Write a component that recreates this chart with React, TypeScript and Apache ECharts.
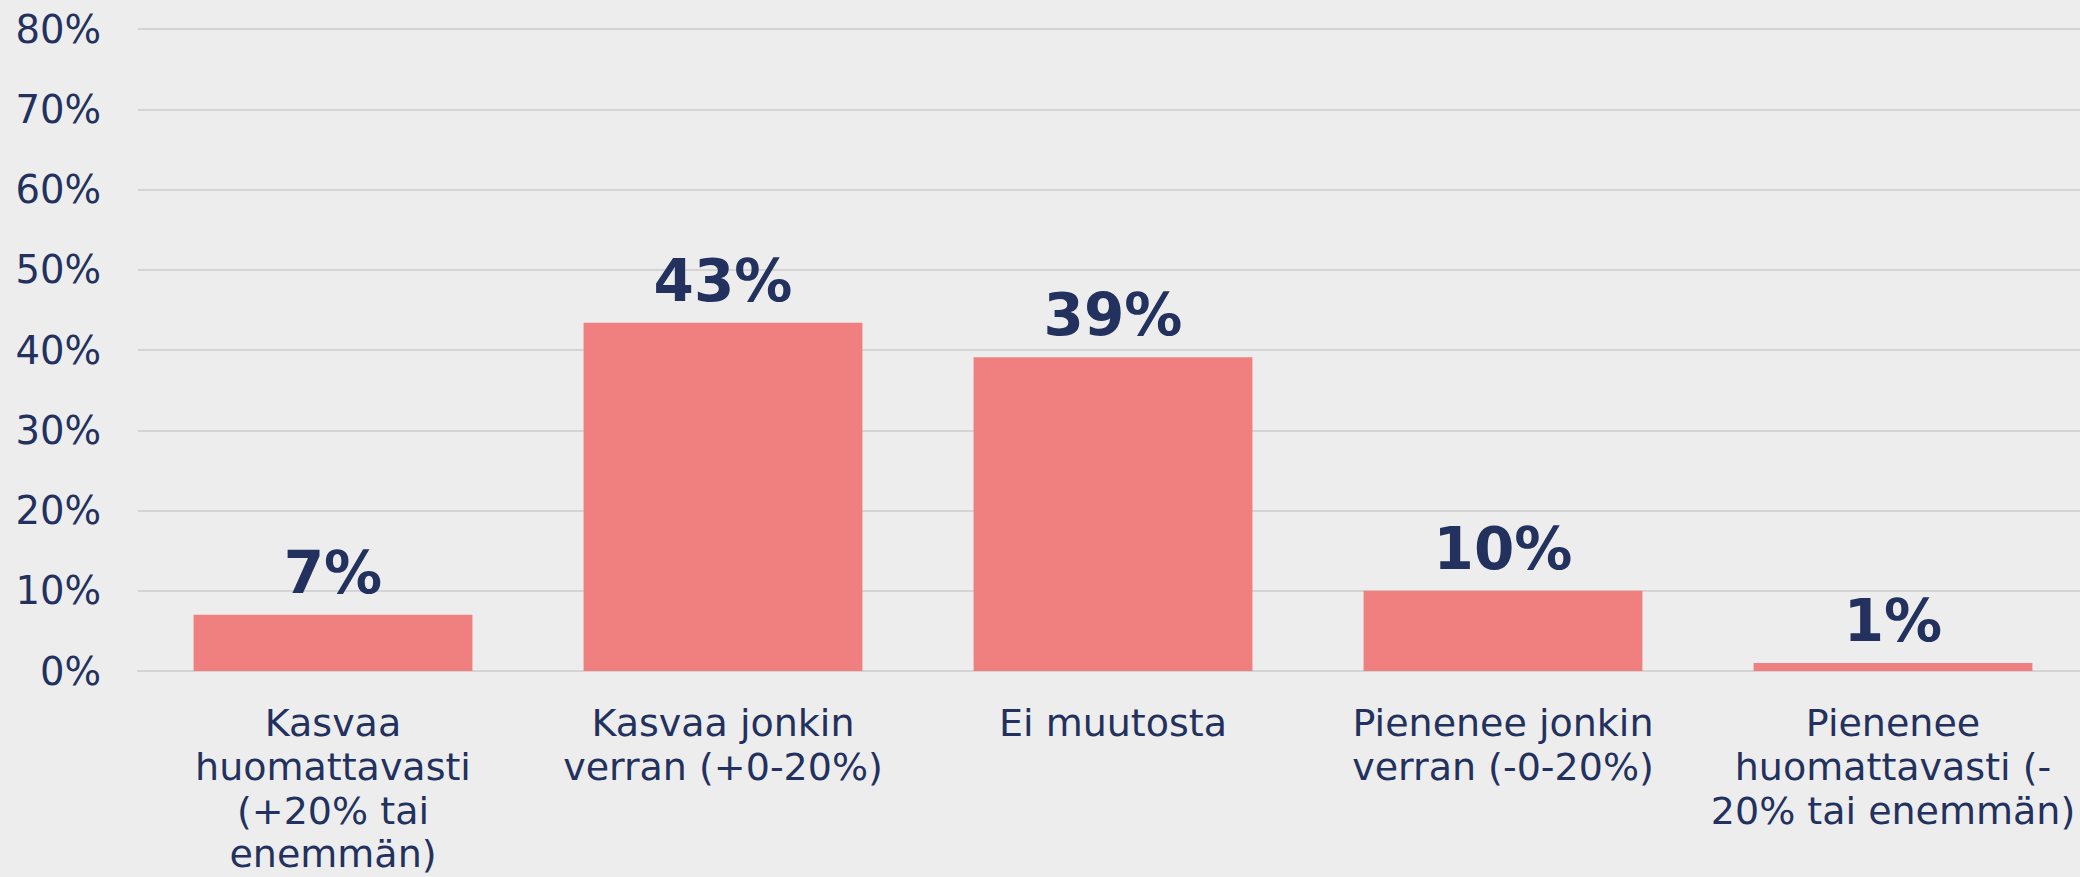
import React, { useEffect, useRef } from "react";
import * as echarts from "echarts";

const categories = [
  "Kasvaa\nhuomattavasti\n(+20% tai\nenemmän)",
  "Kasvaa jonkin\nverran (+0-20%)",
  "Ei muutosta",
  "Pienenee jonkin\nverran (-0-20%)",
  "Pienenee\nhuomattavasti (-\n20% tai enemmän)",
];
const values = [7.0, 43.4, 39.1, 10.0, 1.0];
const yTicks = [0, 10, 20, 30, 40, 50, 60, 70, 80];

const TEXT = "#22315E";
const FONT = "'DejaVu Sans', Verdana, sans-serif";

export default function App() {
  const ref = useRef<HTMLDivElement>(null);
  useEffect(() => {
    if (!ref.current) return;
    const chart = echarts.init(ref.current, undefined, { renderer: "svg" });
    chart.setOption({
      animation: false,
      backgroundColor: "#EDEDED",
      textStyle: { fontFamily: FONT },
      grid: {
        left: 138,
        top: 29,
        width: 1950,
        height: 642,
        containLabel: false,
        outerBoundsMode: "none",
      },
      xAxis: {
        type: "category",
        data: categories,
        axisTick: { show: false },
        axisLine: { show: true, lineStyle: { color: "#D4D4D4", width: 2 } },
        axisLabel: {
          color: TEXT,
          fontFamily: FONT,
          fontSize: 38,
          lineHeight: 43.8,
          margin: 30,
          interval: 0,
          align: "center",
          verticalAlign: "top",
        },
      },
      yAxis: {
        type: "value",
        min: yTicks[0],
        max: yTicks[yTicks.length - 1],
        interval: 10,
        axisLine: { show: false },
        axisTick: { show: false },
        splitLine: { lineStyle: { color: "#D4D4D4", width: 2 } },
        axisLabel: {
          color: TEXT,
          fontFamily: FONT,
          fontSize: 38.5,
          margin: 37,
          formatter: (v: number) => `${v}%`,
        },
      },
      series: [
        {
          type: "bar",
          data: values,
          barCategoryGap: "28.5%",
          itemStyle: { color: "#F08080" },
          label: {
            show: true,
            position: "top",
            distance: 13,
            color: TEXT,
            fontFamily: FONT,
            fontWeight: "bold",
            fontSize: 58,
            formatter: (p: any) => `${Math.round(p.value)}%`,
          },
        },
      ],
    });
    return () => chart.dispose();
  }, []);
  return (
    <div
      ref={ref}
      style={{ position: "fixed", left: 0, top: 0, width: 2080, height: 877 }}
    />
  );
}
